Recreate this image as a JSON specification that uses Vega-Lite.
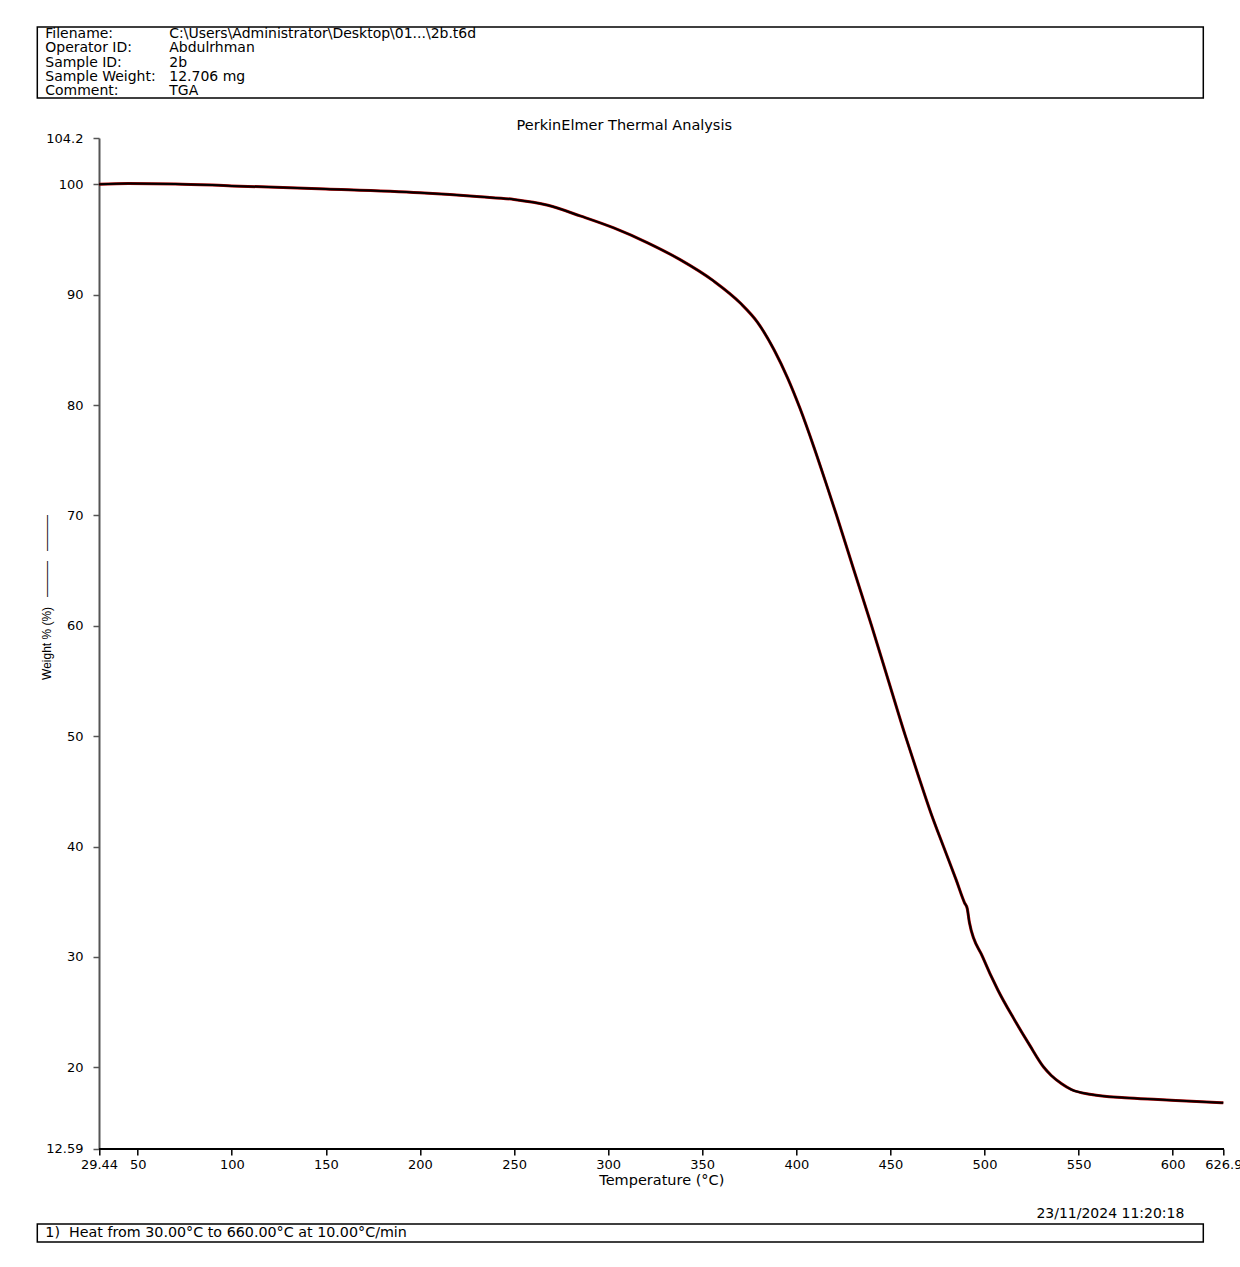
{
  "$schema": "https://vega.github.io/schema/vega-lite/v6.json",
  "background": "white",
  "padding": {"left": 36.3, "top": 26, "right": 0, "bottom": 0},
  "spacing": 18,
  "config": {
    "font": "DejaVu Sans",
    "view": {"stroke": null},
    "title": {"font": "DejaVu Sans", "fontSize": 14.5, "fontWeight": "normal", "color": "black"},
    "axis": {"labelFont": "DejaVu Sans", "titleFont": "DejaVu Sans", "labelFontSize": 13, "titleFontSize": 14.5, "titleFontWeight": "normal", "labelColor": "black", "titleColor": "black", "grid": false}
  },
  "datasets": {
    "header": [
      {"line": 1, "key": "Filename:", "value": "C:\\Users\\Administrator\\Desktop\\01...\\2b.t6d"},
      {"line": 2, "key": "Operator ID:", "value": "Abdulrhman"},
      {"line": 3, "key": "Sample ID:", "value": "2b"},
      {"line": 4, "key": "Sample Weight:", "value": "12.706 mg"},
      {"line": 5, "key": "Comment:", "value": "TGA"}
    ],
    "footer": [
      {"text": "1)\u00a0 Heat from 30.00°C to 660.00°C at 10.00°C/min"}
    ],
    "curve": [
      {"T": 29.44, "W": 100.00},
      {"T": 45.0, "W": 100.07},
      {"T": 70.0, "W": 100.04},
      {"T": 100.0, "W": 99.86},
      {"T": 150.0, "W": 99.58},
      {"T": 200.0, "W": 99.24},
      {"T": 232.0, "W": 98.88},
      {"T": 250.0, "W": 98.63},
      {"T": 268.0, "W": 98.10},
      {"T": 285.5, "W": 97.12},
      {"T": 303.0, "W": 96.05},
      {"T": 321.0, "W": 94.70},
      {"T": 338.0, "W": 93.20},
      {"T": 356.0, "W": 91.25},
      {"T": 370.5, "W": 89.20},
      {"T": 379.4, "W": 87.50},
      {"T": 388.3, "W": 84.97},
      {"T": 395.4, "W": 82.45},
      {"T": 401.9, "W": 79.73},
      {"T": 409.5, "W": 76.12},
      {"T": 416.7, "W": 72.45},
      {"T": 421.3, "W": 70.06},
      {"T": 430.5, "W": 65.10},
      {"T": 440.0, "W": 60.00},
      {"T": 449.0, "W": 55.00},
      {"T": 458.0, "W": 50.00},
      {"T": 464.5, "W": 46.60},
      {"T": 471.6, "W": 43.00},
      {"T": 478.2, "W": 40.00},
      {"T": 484.9, "W": 37.00},
      {"T": 489.4, "W": 34.90},
      {"T": 490.8, "W": 34.40},
      {"T": 492.0, "W": 33.10},
      {"T": 499.0, "W": 30.00},
      {"T": 507.1, "W": 27.00},
      {"T": 515.9, "W": 24.30},
      {"T": 524.0, "W": 22.00},
      {"T": 531.5, "W": 20.00},
      {"T": 535.5, "W": 19.25},
      {"T": 541.0, "W": 18.50},
      {"T": 546.1, "W": 17.98},
      {"T": 556.8, "W": 17.53},
      {"T": 574.5, "W": 17.23},
      {"T": 592.2, "W": 17.07},
      {"T": 610.0, "W": 16.92},
      {"T": 626.9, "W": 16.77}
    ]
  },
  "vconcat": [
    {
      "width": 1166,
      "height": 71,
      "view": {"stroke": "black", "strokeWidth": 1.5},
      "data": {"name": "header"},
      "transform": [{"fold": ["key", "value"], "as": ["col", "txt"]}],
      "mark": {"type": "text", "align": "left", "baseline": "middle", "fontSize": 14, "color": "black"},
      "encoding": {
        "x": {"field": "col", "type": "nominal", "scale": {"type": "point", "domain": ["key", "value"], "range": [8, 132], "padding": 0}, "axis": null},
        "y": {"field": "line", "type": "ordinal", "scale": {"type": "band", "paddingInner": 0, "paddingOuter": 0}, "axis": null},
        "text": {"field": "txt"}
      }
    },
    {
      "width": 1186,
      "height": 1011,
      "title": {"text": "PerkinElmer Thermal Analysis", "offset": -1, "dx": -6},
      "data": {"name": "curve"},
      "layer": [
        {
          "mark": {"type": "line", "color": "#b00000", "strokeWidth": 3, "interpolate": "monotone"},
          "encoding": {
            "x": {
              "field": "T", "type": "quantitative",
              "scale": {"domain": [-3.34, 626.9], "nice": false, "zero": false},
              "axis": {
                "title": "Temperature (°C)",
                "values": [29.44, 50, 100, 150, 200, 250, 300, 350, 400, 450, 500, 550, 600, 626.9],
                "labelExpr": "'' + datum.value",
                "labelFlush": false, "labelOverlap": false,
                "domain": false,
                "tickSize": 6, "labelPadding": 4, "titlePadding": 2, "titleX": 624,
                "tickColor": "black", "tickWidth": 1.5
              }
            },
            "y": {
              "field": "W", "type": "quantitative",
              "scale": {"domain": [12.59, 104.2], "nice": false, "zero": false},
              "axis": {
                "title": "Weight % (%)\u00a0\u00a0\u00a0———\u00a0\u00a0\u00a0———",
                "titleFont": "Liberation Sans", "titleFontSize": 12,
                "values": [12.59, 20, 30, 40, 50, 60, 70, 80, 90, 100, 104.2],
                "labelExpr": "'' + datum.value",
                "labelOverlap": false, "labelFlush": false,
                "offset": -61.7,
                "tickSize": 6, "labelPadding": 10,
                "titleX": -45, "titleY": 459,
                "domainColor": "#555555", "domainWidth": 2, "tickColor": "#555555", "tickWidth": 1.5
              }
            }
          }
        },
        {
          "mark": {"type": "line", "color": "black", "strokeWidth": 2, "interpolate": "monotone"},
          "encoding": {
            "x": {"field": "T", "type": "quantitative"},
            "y": {"field": "W", "type": "quantitative"}
          }
        },
        {
          "mark": {"type": "rule", "color": "black", "strokeWidth": 1.5},
          "encoding": {
            "x": {"datum": 29.44, "type": "quantitative"},
            "x2": {"datum": 626.9},
            "y": {"datum": 12.59, "type": "quantitative"}
          }
        }
      ]
    },
    {
      "width": 1166,
      "height": 18,
      "view": {"stroke": "black", "strokeWidth": 1.5},
      "title": {"text": "23/11/2024 11:20:18", "anchor": "end", "dx": -19, "offset": 3, "fontSize": 14},
      "data": {"name": "footer"},
      "mark": {"type": "text", "align": "left", "baseline": "middle", "fontSize": 14.3, "dx": 8, "color": "black"},
      "encoding": {
        "x": {"datum": 0, "type": "quantitative", "scale": {"domain": [0, 1]}, "axis": null},
        "text": {"field": "text"}
      }
    }
  ]
}
